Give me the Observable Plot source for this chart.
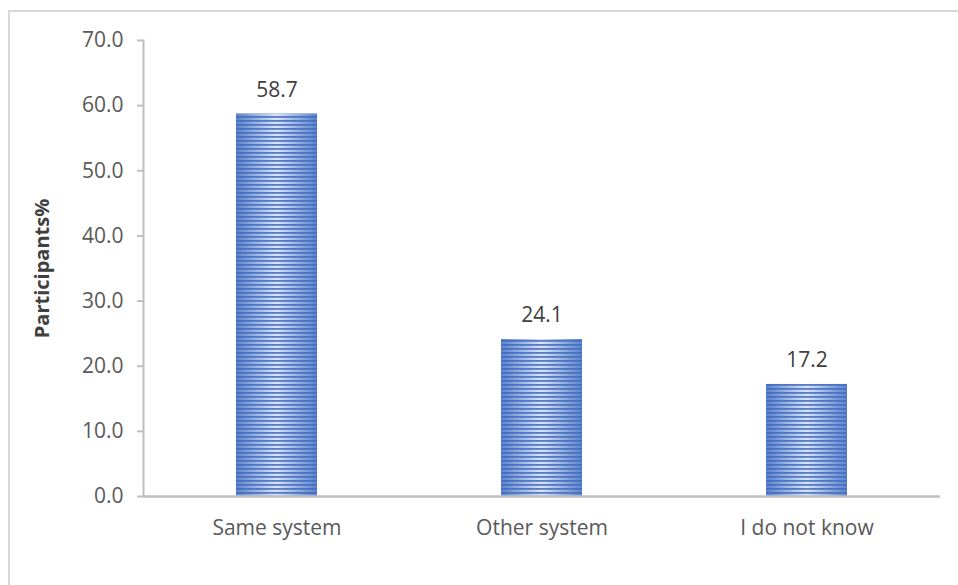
<!DOCTYPE html>
<html>
<head>
<meta charset="utf-8">
<script src="https://cdn.jsdelivr.net/npm/d3@7"></script>
<script src="https://cdn.jsdelivr.net/npm/@observablehq/plot@0.6"></script>
<style>
  html, body { margin: 0; padding: 0; background: #fff; overflow: hidden; }
  #frame { position: absolute; left: 8px; top: 10px; width: 980px; height: 620px;
           border-top: 2px solid #d9d9d9; border-left: 2px solid #d9d9d9; }
  #chart { position: absolute; left: 0; top: 0; }
  svg { font-family: "Open Sans", sans-serif; }
</style>
</head>
<body>
<div id="frame"></div>
<div id="chart"></div>
<script>
const categories = ["Same system", "Other system", "I do not know"];
const values = [58.7, 24.1, 17.2];
const yTicks = [0, 10, 20, 30, 40, 50, 60, 70];

const data = categories.map((c, i) => ({category: c, value: values[i]}));

const plot = Plot.plot({
  width: 958,
  height: 585,
  marginLeft: 143,
  marginRight: 18,
  marginTop: 40,
  marginBottom: 89,
  style: {background: "transparent", fontFamily: "Open Sans, sans-serif"},
  x: {domain: categories, paddingInner: 0.695, paddingOuter: 0.3475, label: null},
  y: {domain: [0, 70], label: null},
  marks: [
    Plot.barY(data, {x: "category", y: "value", fill: "url(#barGrad)"}),
    Plot.barY(data, {x: "category", y: "value", fill: "url(#barStripes)"}),
    Plot.axisY({ticks: yTicks, tickFormat: d => d.toFixed(1), tickSize: 6, tickPadding: 14,
      stroke: "#bfbfbf", strokeWidth: 2, fill: "#595959", fontSize: 21, label: null}),
    Plot.frame({anchor: "left", stroke: "#bfbfbf", strokeWidth: 2}),
    Plot.axisX({tickSize: 0, tickPadding: 24, fill: "#595959", fontSize: 21, label: null}),
    Plot.ruleY([0], {stroke: "#bfbfbf", strokeWidth: 2.5}),
    Plot.text(data, {x: "category", y: "value", text: d => d.value.toFixed(1), dy: -24,
      fill: "#404040", fontSize: 21}),
    Plot.text(["Participants%"], {frameAnchor: "left", dx: -101, rotate: -90, textAnchor: "middle",
      fontWeight: "bold", fontSize: 20, fill: "#404040"})
  ]
});

plot.insertAdjacentHTML("afterbegin", `
<defs>
  <linearGradient id="barGrad" x1="0" y1="0" x2="1" y2="0">
    <stop offset="0" stop-color="#5b83cc"/>
    <stop offset="0.5" stop-color="#dbe4f4"/>
    <stop offset="1" stop-color="#5b83cc"/>
  </linearGradient>
  <pattern id="barStripes" patternUnits="userSpaceOnUse" x="0" y="0" width="8" height="4">
    <rect x="0" y="0" width="8" height="1.8" fill="#3f6bc0" fill-opacity="0.85"/>
  </pattern>
</defs>`);

document.getElementById("chart").appendChild(plot);
</script>
</body>
</html>
